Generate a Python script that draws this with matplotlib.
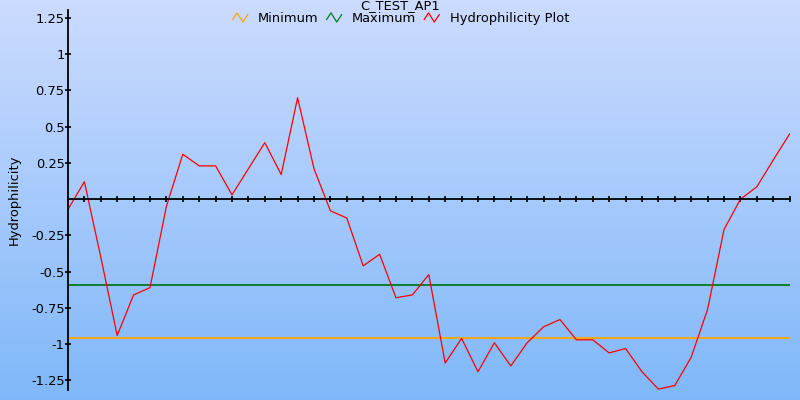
#!/usr/bin/env python3
"""
Hydrophilicity plot for C_TEST_AP1 with minimum / maximum threshold lines
"""

import numpy as np
import matplotlib
matplotlib.use("Agg")
import matplotlib.pyplot as plt
from matplotlib.lines import Line2D
from matplotlib.legend_handler import HandlerBase

# values
title = "C_TEST_AP1"
hydrophilicity = [
    -0.07, 0.12, -0.40, -0.94, -0.66, -0.61, -0.05, 0.31, 0.23, 0.23,
    0.03, 0.21, 0.39, 0.17, 0.70, 0.21, -0.08, -0.13, -0.46, -0.38,
    -0.68, -0.66, -0.52, -1.13, -0.96, -1.19, -0.99, -1.15, -0.99, -0.88,
    -0.83, -0.97, -0.97, -1.06, -1.03, -1.19, -1.31, -1.285, -1.09, -0.76,
    -0.21, 0.0, 0.085, 0.27, 0.45,
]
minimum_value = -0.96
maximum_value = -0.595
y_ticks = [1.25, 1, 0.75, 0.5, 0.25, -0.25, -0.5, -0.75, -1, -1.25]

FONT = 9.4


class ZigzagHandler(HandlerBase):
    """Legend key drawn as a small zigzag line"""
    def create_artists(self, legend, orig_handle, xdescent, ydescent,
                       width, height, fontsize, trans):
        xs = np.array([0.0, 0.29, 0.67, 1.0]) * width - xdescent
        ys = np.array([0.28, 1.0, 0.0, 0.8]) * height - ydescent
        line = Line2D(xs, ys, color=orig_handle.get_color(), linewidth=0.9)
        line.set_transform(trans)
        return [line]


def main():
    plt.rcParams['font.family'] = ['DejaVu Sans']
    fig = plt.figure(figsize=(8, 4), dpi=100)

    # gradient background over the whole figure
    bg = fig.add_axes([0, 0, 1, 1])
    top = np.array([0.80, 0.86, 1.00])
    bottom = np.array([0.50, 0.72, 0.975])
    t = np.linspace(0, 1, 256)[:, None]
    grad = top[None, :] * (1 - t) + bottom[None, :] * t
    bg.imshow(grad[:, None, :], aspect='auto', extent=[0, 1, 0, 1])
    bg.axis('off')

    ax = fig.add_axes([68 / 800, 10 / 400, (789.6 - 68) / 800, 380 / 400])
    ax.patch.set_alpha(0)

    x = np.arange(len(hydrophilicity))
    h_min = ax.axhline(minimum_value, color='#FFA500', linewidth=1.3)
    h_max = ax.axhline(maximum_value, color='#007A1F', linewidth=1.3)
    h_line, = ax.plot(x, hydrophilicity, color='#FF0000', linewidth=0.9)

    ax.set_xlim(0, len(hydrophilicity) - 1)
    ax.set_ylim(-1.316, 1.305)

    # axes: y spine on the left, x axis through zero
    ax.spines['top'].set_visible(False)
    ax.spines['right'].set_visible(False)
    ax.spines['bottom'].set_position(('data', 0))
    ax.spines['left'].set_linewidth(1.3)
    ax.spines['bottom'].set_linewidth(1.3)

    ax.set_xticks(x)
    ax.set_xticklabels([])
    ax.set_yticks(y_ticks)
    ax.set_yticklabels([f"{v:g}" for v in y_ticks])
    ax.tick_params(axis='both', direction='inout', length=5, width=1.2,
                   pad=0, labelsize=FONT, colors='black')
    ax.set_ylabel('Hydrophilicity', fontsize=FONT, labelpad=7)

    fig.text(0.5, 1 - 9 / 400, title, ha='center', va='baseline', fontsize=FONT)

    fig.legend([h_min, h_max, h_line], ['Minimum', 'Maximum', 'Hydrophilicity Plot'],
               loc='center', bbox_to_anchor=(0.5012, 1 - 18.5 / 400), ncol=3,
               frameon=False, fontsize=FONT, handlelength=1.15, handletextpad=0.8,
               columnspacing=0.6, borderpad=0, borderaxespad=0,
               handler_map={Line2D: ZigzagHandler()})

    fig.savefig('out.png', dpi=100)
    plt.close(fig)


if __name__ == "__main__":
    main()
